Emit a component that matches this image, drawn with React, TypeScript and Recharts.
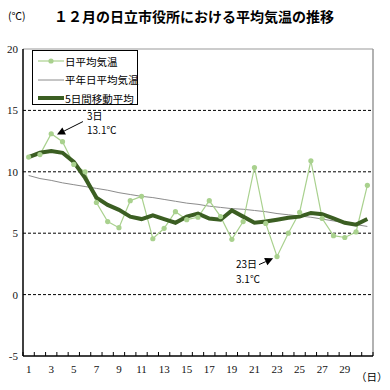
import React from 'react';
import { ComposedChart, Line, XAxis, YAxis, ReferenceLine } from 'recharts';

const days = Array.from({ length: 31 }, (_, i) => i + 1);
const dailyAvg = [11.2, 11.4, 13.1, 12.45, 10.6, 10.0, 7.5, 5.95, 5.45, 7.65, 8.0, 4.55, 5.4, 6.75, 6.1, 6.3, 7.65, 6.35, 4.5, 5.95, 10.35, 5.8, 3.1, 5.0, 6.7, 10.9, 6.2, 4.8, 4.65, 5.1, 8.9];
const normalAvg = [9.7, 9.45, 9.3, 9.1, 8.95, 8.8, 8.65, 8.5, 8.3, 8.15, 8.0, 7.9, 7.75, 7.6, 7.45, 7.35, 7.2, 7.1, 7.0, 6.95, 6.85, 6.75, 6.6, 6.5, 6.4, 6.3, 6.15, 6.0, 5.85, 5.7, 5.55];
const movingAvg = [11.2, 11.55, 11.7, 11.55, 10.8, 9.5, 7.9, 7.3, 6.9, 6.35, 6.15, 6.45, 6.15, 5.85, 6.35, 6.6, 6.2, 6.1, 6.85, 6.35, 5.85, 5.95, 6.1, 6.25, 6.35, 6.65, 6.55, 6.2, 5.85, 5.7, 6.15];
const yTicks = [-5, 0, 5, 10, 15, 20];
const xLabelTicks = [1, 3, 5, 7, 9, 11, 13, 15, 17, 19, 21, 23, 25, 27, 29];
const xBoundaryTicks = Array.from({ length: 32 }, (_, i) => i + 0.5);
const gridValues = [0, 5, 10, 15];

const data = days.map((d, i) => ({ day: d, daily: dailyAvg[i], normal: normalAvg[i], moving: movingAvg[i] }));

const LIGHT = '#a9d18e';
const DARK = '#3b5e22';
const GRAY = '#8c8c8c';
const CJK = '"Noto Sans CJK JP", "Noto Sans", sans-serif';
const SERIF = '"Liberation Serif", "DejaVu Serif", serif';

const ArrowShape = (props: any) => {
  const { x1, y1, x2, y2 } = props;
  if ([x1, y1, x2, y2].some((v) => v === undefined || isNaN(v))) return null;
  const dx = x2 - x1;
  const dy = y2 - y1;
  const len = Math.sqrt(dx * dx + dy * dy);
  const ux = dx / len;
  const uy = dy / len;
  const hl = 8;
  const hw = 4;
  const bx = x2 - ux * hl;
  const by = y2 - uy * hl;
  const pts = `${x2},${y2} ${bx - uy * hw},${by + ux * hw} ${bx + uy * hw},${by - ux * hw}`;
  return (
    <g>
      <line x1={x1} y1={y1} x2={bx} y2={by} stroke="#000" strokeWidth={1} />
      <polygon points={pts} fill="#000" />
    </g>
  );
};

const TickShape = (props: any) => {
  const { x1, y1, y2 } = props;
  if ([x1, y1, y2].some((v) => v === undefined || isNaN(v))) return null;
  return <line x1={x1} y1={y1} x2={x1} y2={y1 - 4} stroke="#000" strokeWidth={1} />;
};

const legendItems = [
  { label: '日平均気温', color: LIGHT, width: 1.2, dot: true },
  { label: '平年日平均気温', color: GRAY, width: 1, dot: false },
  { label: '5日間移動平均', color: DARK, width: 4, dot: false },
];

export default function App() {
  return (
    <div style={{ position: 'absolute', left: 0, top: 0, width: 390, height: 390, background: '#fff', fontFamily: CJK }}>
      <ComposedChart width={390} height={390} data={data} margin={{ top: 49, right: 17, bottom: 0, left: 0 }}>
        <XAxis
          xAxisId="lab"
          dataKey="day"
          type="number"
          domain={[0.5, 31.5]}
          ticks={xLabelTicks}
          tickLine={false}
          axisLine={{ stroke: '#000', strokeWidth: 1.5 }}
          tickSize={0}
          tickMargin={9}
          height={34}
          interval={0}
          tick={{ fontFamily: SERIF, fontSize: 11, fill: '#111' }}
          allowDataOverflow
        />
        <YAxis
          domain={[-5, 20]}
          ticks={yTicks}
          width={23}
          tickLine={false}
          tickSize={0}
          tickMargin={5}
          interval={0}
          axisLine={{ stroke: '#000', strokeWidth: 1.5 }}
          tick={{ fontFamily: SERIF, fontSize: 11, fill: '#111' }}
          allowDataOverflow
        />
        {gridValues.map((v) => (
          <ReferenceLine key={v} xAxisId="lab" y={v} stroke="#000" strokeDasharray="3 2" strokeWidth={1} />
        ))}
        <ReferenceLine xAxisId="lab" y={20} stroke="#999" strokeWidth={1} />
        <ReferenceLine xAxisId="lab" x={31.5} stroke="#999" strokeWidth={1.5} />
        {xBoundaryTicks.map((b) => (
          <ReferenceLine
            key={'t' + b}
            xAxisId="lab"
            segment={[{ x: b, y: -5 }, { x: b, y: -4.7 }]}
            shape={TickShape}
            ifOverflow="visible"
          />
        ))}
        <Line xAxisId="lab" type="linear" dataKey="normal" stroke={GRAY} strokeWidth={1} dot={false} isAnimationActive={false} />
        <Line
          xAxisId="lab"
          type="linear"
          dataKey="daily"
          stroke={LIGHT}
          strokeWidth={1.2}
          dot={{ r: 2.6, fill: LIGHT, stroke: LIGHT, strokeWidth: 0 }}
          isAnimationActive={false}
        />
        <Line xAxisId="lab" type="linear" dataKey="moving" stroke={DARK} strokeWidth={4} dot={false} isAnimationActive={false} />
        <ReferenceLine
          xAxisId="lab"
          segment={[{ x: 5.81, y: 14.09 }, { x: 3.51, y: 13.03 }]}
          shape={ArrowShape}
          ifOverflow="visible"
        />
        <ReferenceLine
          xAxisId="lab"
          segment={[{ x: 21.4, y: 2.44 }, { x: 22.65, y: 2.95 }]}
          shape={ArrowShape}
          ifOverflow="visible"
        />
      </ComposedChart>

      <div style={{ position: 'absolute', left: 8, top: 8, fontSize: 10.5, color: '#000', whiteSpace: 'nowrap' }}>(℃)</div>
      <div style={{ position: 'absolute', left: 54, top: 6, fontSize: 14, fontWeight: 'bold', color: '#000', whiteSpace: 'nowrap' }}>
        １２月の日立市役所における平均気温の推移
      </div>
      <div style={{ position: 'absolute', left: 356, top: 369, fontSize: 10.5, color: '#000', whiteSpace: 'nowrap' }}>（日）</div>

      <div style={{ position: 'absolute', left: 87, top: 109, fontSize: 10, lineHeight: '14px', color: '#000', whiteSpace: 'nowrap' }}>
        <div>3日</div>
        <div>13.1℃</div>
      </div>
      <div style={{ position: 'absolute', left: 236, top: 256, fontSize: 10, lineHeight: '15px', color: '#000', whiteSpace: 'nowrap' }}>
        <div>23日</div>
        <div>3.1℃</div>
      </div>

      <div
        style={{
          position: 'absolute',
          left: 32,
          top: 50,
          width: 106,
          height: 55,
          border: '1px solid #000',
          background: '#fff',
          boxSizing: 'border-box',
        }}
      >
        {legendItems.map((it, i) => (
          <div key={it.label} style={{ position: 'absolute', left: 4, top: 2 + i * 18.5, height: 16, display: 'flex', alignItems: 'center' }}>
            <svg width={28} height={16}>
              <line x1={1} y1={8} x2={27} y2={8} stroke={it.color} strokeWidth={it.width} />
              {it.dot && <circle cx={14} cy={8} r={2.6} fill={it.color} />}
            </svg>
            <span style={{ fontSize: 10.5, color: '#000', whiteSpace: 'nowrap' }}>{it.label}</span>
          </div>
        ))}
      </div>
    </div>
  );
}
